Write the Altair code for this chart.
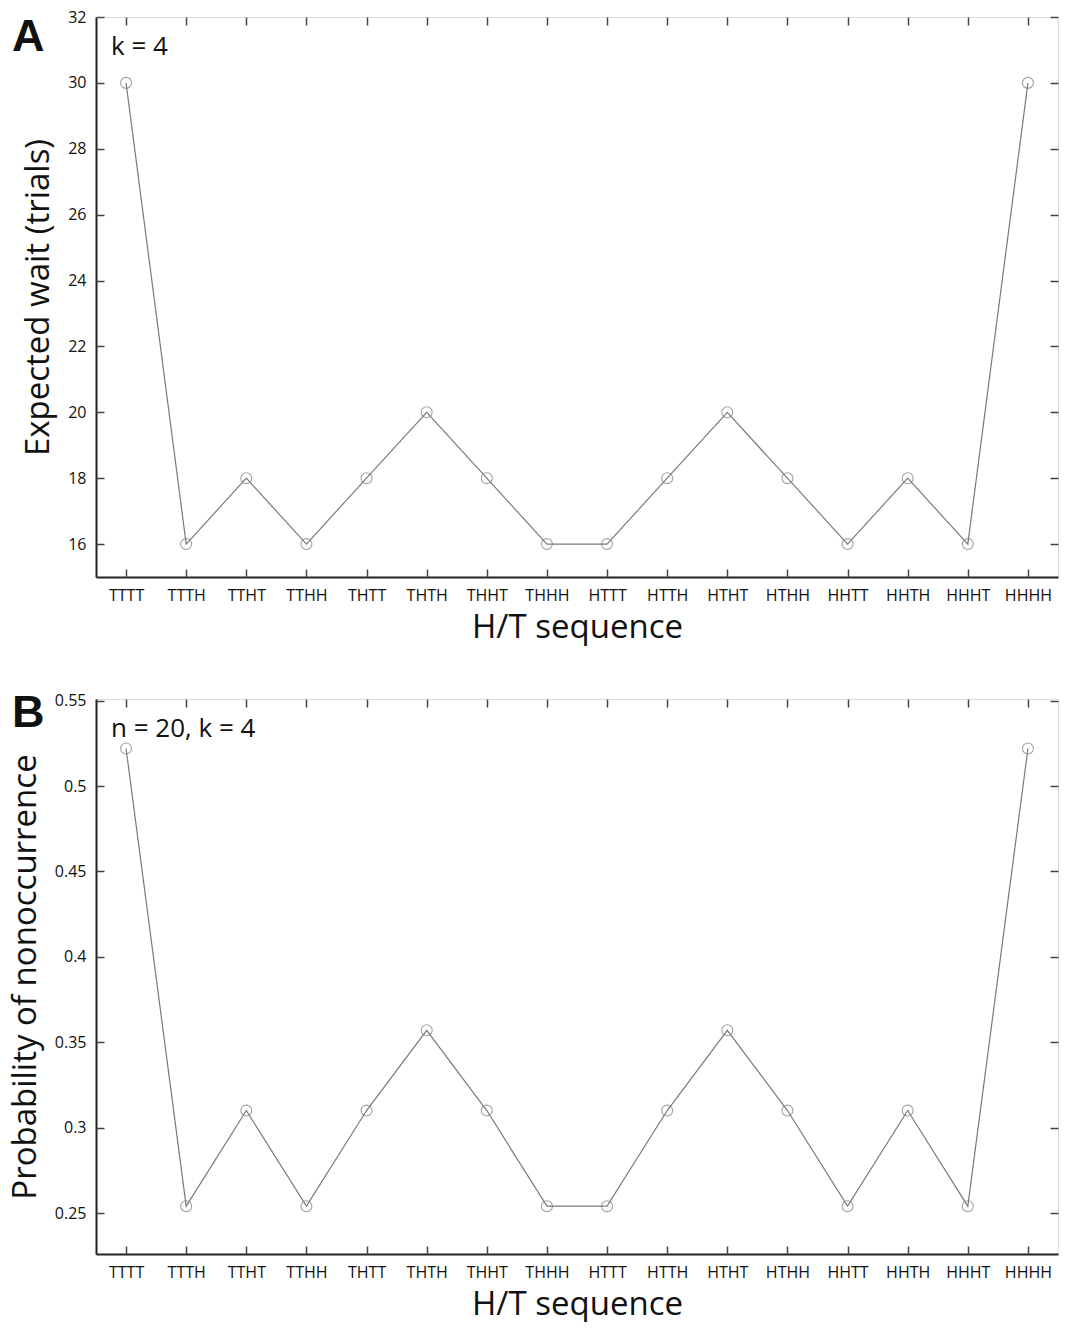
import altair as alt
import pandas as pd

seqs = ["TTTT", "TTTH", "TTHT", "TTHH", "THTT", "THTH", "THHT", "THHH",
        "HTTT", "HTTH", "HTHT", "HTHH", "HHTT", "HHTH", "HHHT", "HHHH"]
wait_vals = [30, 16, 18, 16, 18, 20, 18, 16, 16, 18, 20, 18, 16, 18, 16, 30]
prob_vals = [0.522, 0.254, 0.310, 0.254, 0.310, 0.357, 0.310, 0.254,
             0.254, 0.310, 0.357, 0.310, 0.254, 0.310, 0.254, 0.522]
wait_ticks = [16, 18, 20, 22, 24, 26, 28, 30, 32]
prob_ticks = [0.25, 0.3, 0.35, 0.4, 0.45, 0.5, 0.55]
panel_letters = ["A", "B"]
annotations = ["k = 4", "n = 20, k = 4"]
y_titles = ["Expected wait (trials)", "Probability of nonoccurrence"]
x_title = "H/T sequence"

FONT = "Open Sans"
GRAY = "#7a7a7a"
W = 962


def panel(values, ydomain, yticks, yfmt, ytitle, letter, note, height, letter_y):
    df = pd.DataFrame({"seq": seqs, "v": values})
    xscale = alt.Scale(type="point", padding=0.5)
    yscale = alt.Scale(domain=ydomain, nice=False, zero=False)

    x_main = alt.X("seq:N", sort=seqs, scale=xscale, title=x_title,
                   axis=alt.Axis(orient="bottom", ticks=False, domain=True, domainColor="#222",
                                 domainWidth=2, labelAngle=0, labelFont=FONT, labelFontSize=16,
                                 labelColor="#111", labelPadding=10, titleFont=FONT,
                                 titleFontSize=33, titleFontWeight="normal", titleColor="#111",
                                 titlePadding=8, grid=False))
    y_main = alt.Y("v:Q", scale=yscale, title=ytitle,
                   axis=alt.Axis(orient="left", values=yticks, format=yfmt, ticks=False,
                                 domain=True, domainColor="#222", domainWidth=2,
                                 labelFont=FONT, labelFontSize=16, labelColor="#111",
                                 labelPadding=10, titleFont=FONT, titleFontSize=33,
                                 titleFontWeight="normal", titleColor="#111", titlePadding=12,
                                 grid=False))
    line = alt.Chart(df).mark_line(color=GRAY, strokeWidth=1.2).encode(x=x_main, y=y_main)

    tick_ax = dict(labels=False, domain=False, ticks=True, tickSize=8, tickColor="#444",
                   tickWidth=1.5, title=None, grid=False, offset=-8)
    x_b = alt.X("seq:N", sort=seqs, scale=xscale, axis=alt.Axis(orient="bottom", **tick_ax))
    y_l = alt.Y("v:Q", scale=yscale, axis=alt.Axis(orient="left", values=yticks, **tick_ax))
    pts = alt.Chart(df).mark_point(shape="circle", filled=False, color=GRAY, size=120,
                                   strokeWidth=1.1).encode(x=x_b, y=y_l)

    x_t = alt.X("seq:N", sort=seqs, scale=xscale, axis=alt.Axis(orient="top", **tick_ax))
    y_r = alt.Y("v:Q", scale=yscale, axis=alt.Axis(orient="right", values=yticks, **tick_ax))
    ghost = alt.Chart(df).mark_point(opacity=0).encode(x=x_t, y=y_r)

    tdf = pd.DataFrame({"t": [note], "l": [letter]})
    note_txt = alt.Chart(tdf).mark_text(align="left", baseline="middle", font=FONT,
                                        fontSize=26, color="#111").encode(
        x=alt.value(15), y=alt.value(30), text="t:N")
    letter_txt = alt.Chart(tdf).mark_text(align="left", baseline="top",
                                          font="Liberation Sans", fontWeight="bold",
                                          fontSize=45, color="#111").encode(
        x=alt.value(-84), y=alt.value(letter_y), text="l:N")

    return alt.layer(line, pts, ghost, note_txt, letter_txt).resolve_axis(
        x="independent", y="independent").properties(width=W, height=height)


a = panel(wait_vals, [15, 32], wait_ticks, "d", y_titles[0], panel_letters[0],
          annotations[0], 560, -2)
b = panel(prob_vals, [0.226, 0.551], prob_ticks, ".2~f", y_titles[1], panel_letters[1],
          annotations[1], 555, -8)

chart = alt.vconcat(a, b, spacing=45).properties(
    padding={"left": 0, "top": 0, "right": 0, "bottom": 0}
).configure_view(stroke=GRAY, strokeWidth=1.5).configure(background="white")

chart.save("out.html", embed_options={"renderer": "svg", "actions": False})
